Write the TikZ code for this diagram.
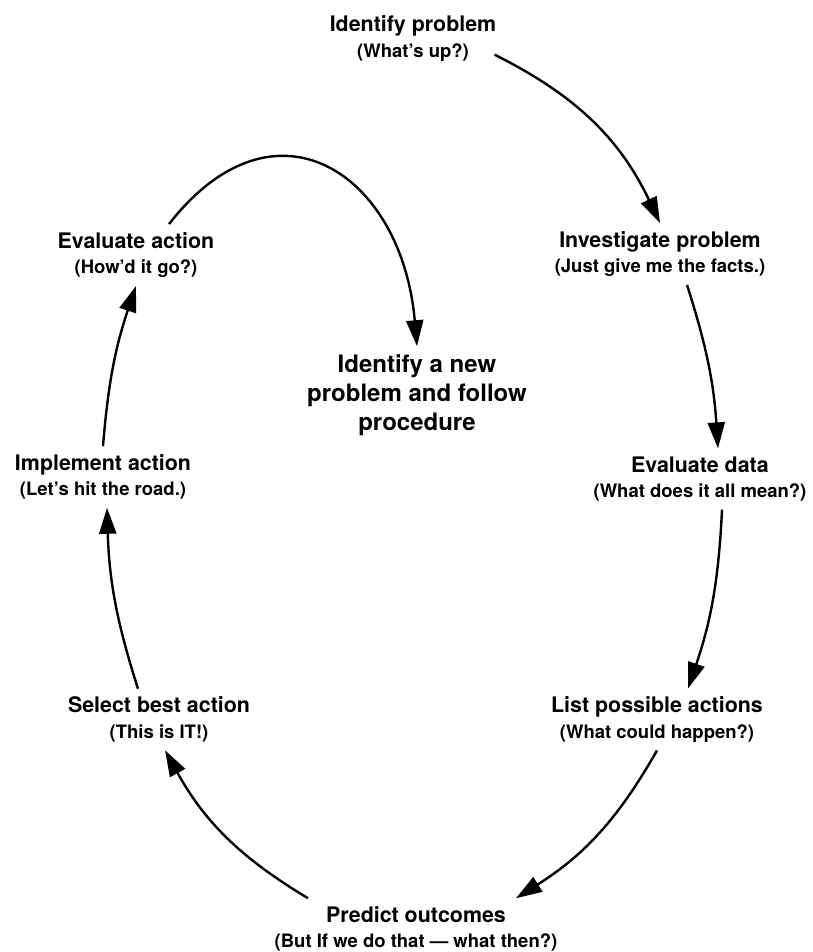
\documentclass[tikz,border=0pt]{standalone}
\usepackage{fontspec}
\setmainfont{TeX Gyre Heros}
\usetikzlibrary{arrows.meta}

\newcommand{\hint}[1]{{\fontsize{18.5}{22}\selectfont #1}}

\begin{document}
\begin{tikzpicture}
    [x=1pt,y=-1pt,
     stage/.style={align=center,inner sep=8pt,
       font=\bfseries\fontsize{21.4}{25.5}\selectfont},
     pointer/.style={line width=2.4pt,-{Triangle[length=26pt,width=17pt]}}]

    \useasboundingbox (0,0) rectangle (812,952);

    % right side stages:
    \node (idp) [stage] at (413,38.5) {Identify problem\\\hint{(What's up?)}};
    \node (inv) [stage] at (660,254) {Investigate problem\\\hint{(Just give me the facts.)}};
    \node (evd) [stage] at (700,479) {Evaluate data\\\hint{(What does it all mean?)}};
    \node (lpa) [stage] at (657,719.5) {List possible actions\\\hint{(What could happen?)}};

    % bottom stage:
    \node (pro) [stage] at (416,929) {Predict outcomes\\\hint{(But If we do that --- what then?)}};

    % left side stages:
    \node (sba) [stage] at (159,719.5) {Select best action\\\hint{(This is IT!)}};
    \node (ima) [stage] at (103,477) {Implement action\\\hint{(Let's hit the road.)}};
    \node (eva) [stage] at (136,255) {Evaluate action\\\hint{(How'd it go?)}};

    % loop exit:
    \node (new) [stage,font=\bfseries\fontsize{24}{29}\selectfont] at (417,395)
      {Identify a new\\problem and follow\\procedure};

    % connect stages:
    \draw [pointer] ([xshift=-10pt]idp.-10) to [bend left=19] (inv.north);
    \draw [pointer] ([xshift=27pt]inv.south) to [bend left=7] ([xshift=18pt]evd.north);
    \draw [pointer] ([xshift=22pt]evd.south) to [bend left=8] ([xshift=31pt]lpa.north);
    \draw [pointer] (lpa.south) to [bend left=14] ([xshift=100pt]pro.north);
    \draw [pointer] ([xshift=-108pt]pro.north) to [bend left=15] ([xshift=6pt]sba.south);
    \draw [pointer] ([xshift=-21pt]sba.north) to [bend left=8] ([xshift=4pt]ima.south);
    \draw [pointer] (ima.north) to [bend left=7] (eva.south);
    \draw [pointer] ([xshift=33pt]eva.north) to [out=52,in=95,looseness=1.6] (new.north);

\end{tikzpicture}
\end{document}
